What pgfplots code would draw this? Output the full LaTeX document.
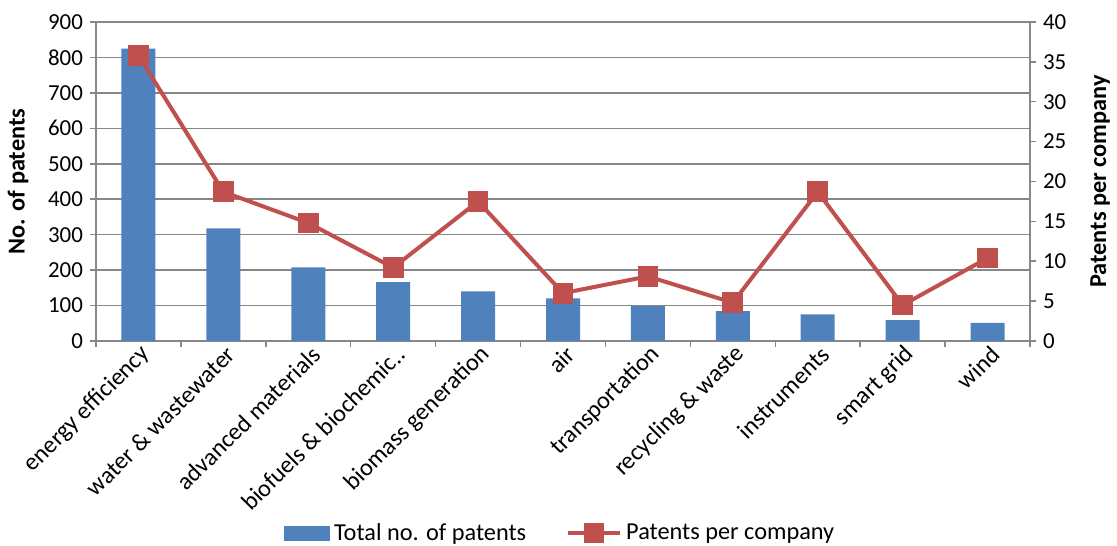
\documentclass[border=0pt]{standalone}
\usepackage{pgfplots}
\pgfplotsset{compat=1.18}
\usepackage{fontspec}
\setmainfont{Carlito}
\definecolor{barblue}{HTML}{4F81BD}
\definecolor{linered}{HTML}{C0504D}
\definecolor{gridgray}{HTML}{878787}
\begin{document}
\begin{tikzpicture}
\pgfplotsset{
  base/.style={
    scale only axis, width=467bp, height=159.5bp,
    xmin=-0.5, xmax=10.5,
    /pgf/number format/assume math mode=true,
    tick label style={font=\fontsize{11.5}{13}\selectfont, black},
    label style={font=\fontsize{12.2}{14}\selectfont\bfseries},
    tick align=outside,
    axis line style={gridgray, line width=0.75bp},
    every tick/.style={gridgray, line width=0.75bp},
  }
}
\begin{axis}[base, name=ax,
  ymin=0, ymax=900, ytick={0,100,...,900},
  axis x line*=bottom, axis y line*=left,
  ymajorgrids, grid style={gridgray, line width=0.75bp},
  major tick length=3bp,
  xtick={0,...,10}, xmajorticks=true,
  x tick style={draw=none},
  minor xtick={-0.5,0.5,...,10.5},
  minor tick length=3bp,
  minor x tick style={gridgray, line width=0.75bp, draw=gridgray},
  xticklabels={energy efficiency, water \& wastewater, advanced materials, biofuels \& biochemic.., biomass generation, air, transportation, recycling \& waste, instruments, smart grid, wind},
  xticklabel style={rotate=45, anchor=east, font=\fontsize{12.2}{14}\selectfont, xshift=5bp, yshift=-4bp},
  ylabel={No. of patents},
  ylabel style={at={(axis description cs:-0.0835,0.5)}, anchor=center},
]
\addplot[ybar, bar width=17bp, fill=barblue, draw=none] coordinates {
(0,825) (1,318) (2,208) (3,166) (4,140) (5,120) (6,99) (7,84) (8,75) (9,59) (10,51)};
\end{axis}
\begin{axis}[base,
  ymin=0, ymax=40, ytick={0,5,...,40},
  axis y line*=right, axis x line=none,
  major tick length=3bp,
  ylabel={Patents per company},
  ylabel style={at={(axis description cs:1.075,0.5)}, anchor=center, rotate=0},
  legend style={at={(0.498,-0.603)}, anchor=center, draw=none, fill=none,
    font=\fontsize{12.2}{14}\selectfont, legend columns=2,
    /tikz/every even column/.append style={column sep=18bp}},
]
\addlegendimage{area legend, fill=barblue, draw=none, legend image code/.code={\fill[barblue] (0bp,-3.75bp) rectangle (23bp,3.75bp);}}
\addlegendentry{Total no. of patents}
\addlegendimage{linered, line width=2bp, legend image code/.code={\draw[linered, line width=2bp] (0bp,0bp) -- (26bp,0bp); \fill[linered] (9bp,-4bp) rectangle (17bp,4bp);}}
\addlegendentry{Patents per company}
\addplot[linered, line width=2bp, mark=square*, mark size=4.2bp, mark options={fill=linered, draw=linered}] coordinates {
(0,35.8) (1,18.7) (2,14.8) (3,9.2) (4,17.5) (5,6.0) (6,8.1) (7,4.8) (8,18.7) (9,4.5) (10,10.4)};
\end{axis}
\pgfresetboundingbox
\useasboundingbox ([xshift=-48bp,yshift=-102.5bp]ax.south west) rectangle ([xshift=43.5bp,yshift=11bp]ax.north east);
\end{tikzpicture}
\end{document}
